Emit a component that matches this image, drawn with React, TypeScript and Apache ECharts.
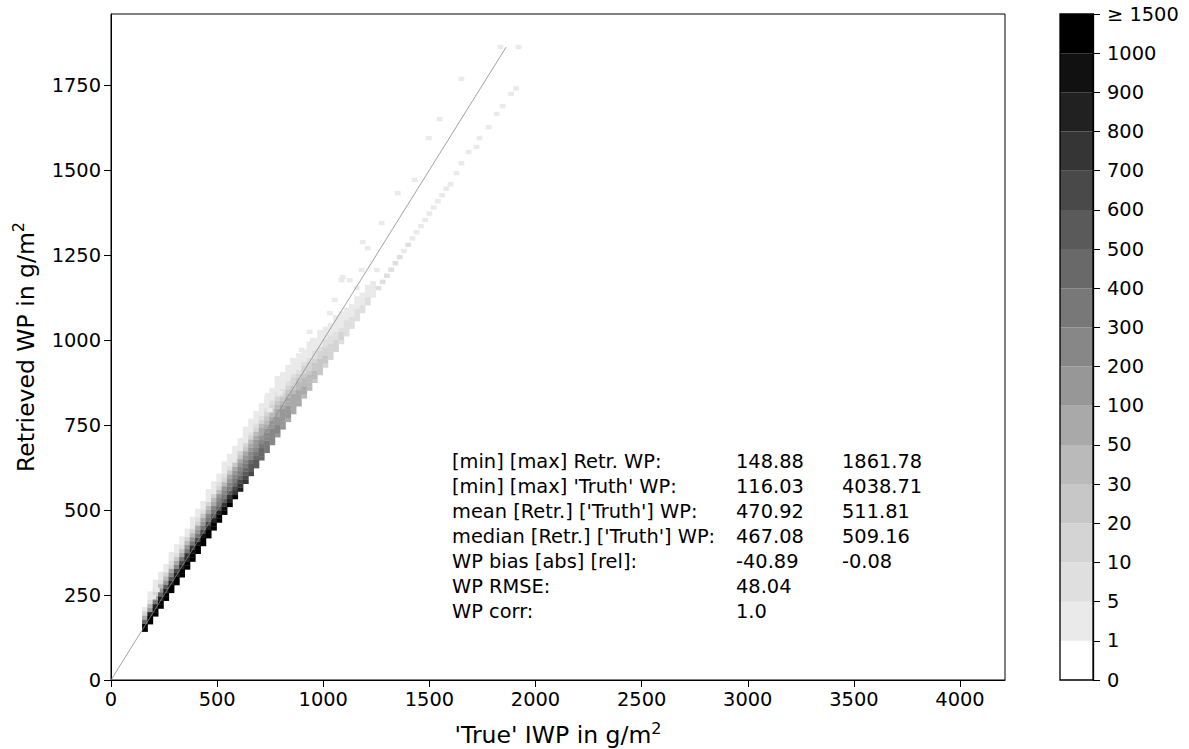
import React, { useEffect, useRef } from "react";
import * as echarts from "echarts";

// ---------- data ----------
const bandX = [160, 185, 210, 235, 260, 285, 310, 335, 360, 385, 410, 435, 460, 485, 510, 535, 560, 585, 610, 635, 660, 685, 710, 735, 760, 785, 810, 835, 860, 885, 910, 935, 960, 985, 1010, 1035, 1060, 1085, 1110, 1135, 1160, 1185, 1210, 1235];
const bandY0 = [148, 170, 193, 216, 239, 262, 285, 308, 331, 354, 377, 400, 423, 446, 469, 492, 515, 538, 560, 583, 606, 629, 652, 674, 697, 720, 743, 765, 788, 811, 834, 857, 880, 903, 925, 948, 971, 994, 1017, 1039, 1062, 1085, 1108, 1131];
const bandCounts: number[][] = [
  [1500, 1000, 400, 60, 10, 3],
  [1500, 1000, 800, 150, 30, 8, 3, 1],
  [1500, 1000, 800, 300, 60, 15, 5, 2, 1],
  [1500, 1000, 800, 400, 100, 30, 8, 3, 1],
  [1500, 1000, 800, 500, 150, 40, 10, 4, 1],
  [1500, 1000, 800, 500, 200, 50, 15, 5, 2, 1],
  [1500, 1000, 800, 600, 200, 60, 20, 6, 2, 1],
  [1500, 1000, 800, 600, 300, 80, 25, 8, 3, 1],
  [1500, 1000, 800, 700, 300, 100, 30, 10, 3, 1],
  [1500, 1000, 900, 700, 300, 100, 40, 12, 4, 1, 1],
  [1500, 1000, 900, 600, 300, 150, 50, 15, 5, 2, 1],
  [1500, 1000, 900, 600, 300, 150, 50, 20, 6, 2, 1],
  [1500, 1000, 800, 600, 300, 200, 80, 30, 10, 3, 1, 1],
  [1500, 1000, 800, 500, 300, 200, 80, 30, 10, 4, 2, 1],
  [1500, 1000, 800, 500, 300, 200, 100, 40, 15, 5, 2, 1],
  [1100, 900, 700, 500, 300, 200, 100, 40, 15, 6, 2, 1, 1],
  [1000, 800, 700, 500, 300, 200, 100, 50, 20, 8, 3, 1, 1],
  [1000, 700, 600, 400, 300, 200, 100, 50, 20, 8, 3, 1, 1],
  [800, 700, 600, 400, 300, 200, 100, 50, 25, 10, 4, 2, 1],
  [700, 600, 500, 400, 300, 200, 100, 50, 25, 10, 4, 2, 1, 1],
  [600, 500, 500, 400, 250, 200, 100, 50, 30, 12, 5, 2, 1, 1],
  [500, 500, 400, 300, 250, 150, 100, 50, 30, 12, 5, 2, 1, 1],
  [400, 400, 400, 300, 200, 150, 80, 50, 30, 15, 6, 3, 1, 1],
  [300, 300, 300, 250, 200, 120, 80, 40, 25, 12, 6, 3, 1, 1],
  [200, 250, 250, 200, 150, 100, 60, 40, 20, 10, 5, 2, 1, 1],
  [150, 200, 200, 150, 120, 80, 50, 30, 20, 10, 5, 2, 1, 1, 1],
  [100, 150, 150, 120, 100, 60, 40, 25, 15, 8, 4, 2, 1, 1],
  [80, 100, 100, 100, 80, 50, 30, 20, 12, 6, 3, 2, 1, 1],
  [60, 80, 80, 70, 60, 40, 25, 15, 10, 5, 3, 1, 1],
  [50, 60, 60, 50, 40, 30, 20, 12, 8, 4, 2, 1, 1],
  [40, 50, 50, 40, 30, 20, 15, 10, 5, 3, 2, 1],
  [30, 40, 40, 30, 25, 15, 10, 6, 4, 2, 1, 1],
  [25, 30, 30, 25, 20, 12, 8, 5, 3, 2, 1],
  [20, 25, 25, 20, 15, 10, 6, 4, 2, 1, 1],
  [15, 20, 20, 15, 10, 8, 5, 3, 2, 1],
  [12, 15, 15, 12, 8, 5, 3, 2, 1],
  [10, 12, 12, 8, 6, 4, 2, 1, 1],
  [8, 10, 10, 6, 4, 3, 2, 1],
  [8, 8, 8, 5, 3, 2, 1],
  [6, 6, 6, 4, 2, 1],
  [6, 5, 5, 3, 2, 1],
  [5, 5, 4, 2, 1],
  [5, 5, 4, 2, 1],
  [4, 4, 3, 1],
];
const trailCells: number[][] = [
  [1260, 1153, 6], [1280, 1171, 5], [1300, 1189, 6], [1320, 1207, 5], [1340, 1226, 5],
  [1360, 1244, 5], [1380, 1262, 4], [1400, 1280, 5], [1420, 1299, 4], [1440, 1317, 4],
  [1460, 1335, 3], [1480, 1353, 3], [1500, 1372, 3], [1520, 1390, 2], [1540, 1408, 3],
  [1560, 1426, 2], [1580, 1445, 2], [1600, 1458, 1], [1628, 1491, 1], [1651, 1520, 1],
  [1685, 1553, 1], [1722, 1568, 1], [1736, 1594, 1], [1779, 1626, 1], [1817, 1665, 1],
  [1845, 1688, 1], [1885, 1724, 1], [1909, 1740, 1], [1920, 1862, 1], [1835, 1862, 1],
];
const sparseCells: number[][] = [
  [198, 244, 1], [216, 265, 1], [574, 653, 1], [574, 647, 1], [607, 685, 1], [621, 706, 1],
  [654, 735, 1], [739, 838, 1], [748, 794, 1], [795, 844, 1], [810, 882, 1], [842, 912, 1],
  [857, 941, 1], [898, 971, 1], [936, 1024, 1], [951, 1000, 1], [1031, 1079, 1], [1054, 1118, 1],
  [1086, 1176, 1], [1092, 1185, 1], [1125, 1176, 1], [1158, 1153, 1], [1181, 1206, 1],
  [1186, 1288, 1], [1209, 1270, 1], [1252, 1206, 1], [1275, 1344, 1], [1351, 1432, 1],
  [1431, 1471, 1], [1497, 1594, 1], [1548, 1650, 1], [1651, 1768, 1],
];
const identityLine = [[0, 0], [1861.78, 1861.78]];

const levelBounds = [0, 1, 5, 10, 20, 30, 50, 100, 200, 300, 400, 500, 600, 700, 800, 900, 1000, 1500];
const levelLabels = ["0", "1", "5", "10", "20", "30", "50", "100", "200", "300", "400", "500", "600", "700", "800", "900", "1000", "\u2265 1500"];
const levelColors = ["#ffffff", "#eaeaea", "#dfdfdf", "#d4d4d4", "#c7c7c7", "#bababa", "#a9a9a9", "#979797", "#878787", "#787878", "#696969", "#5a5a5a", "#494949", "#353535", "#212121", "#111111", "#000000"];

const xTicks = [0, 500, 1000, 1500, 2000, 2500, 3000, 3500, 4000];
const yTicks = [0, 250, 500, 750, 1000, 1250, 1500, 1750];

const statLabels = ["[min] [max] Retr. WP:", "[min] [max] 'Truth' WP:", "mean [Retr.] ['Truth'] WP:", "median [Retr.] ['Truth'] WP:", "WP bias [abs] [rel]:", "WP RMSE:", "WP corr:"];
const statCol1 = ["148.88", "116.03", "470.92", "467.08", "-40.89", "48.04", "1.0"];
const statCol2 = ["1861.78", "4038.71", "511.81", "509.16", "-0.08", "", ""];

// ---------- helpers ----------
const FONT = "DejaVu Sans";
const CELL_DY = 12;

function binColor(c: number): string {
  let idx = 0;
  for (let i = 0; i < levelBounds.length; i++) if (c >= levelBounds[i]) idx = i;
  return levelColors[Math.min(idx, levelColors.length - 1)];
}

function buildCells() {
  const out: any[] = [];
  const push = (x: number, y: number, c: number) =>
    out.push({ value: [x, y, c], itemStyle: { color: binColor(c) } });
  bandX.forEach((x, i) => {
    bandCounts[i].forEach((c, k) => push(x, bandY0[i] + k * CELL_DY, c));
  });
  trailCells.forEach((p) => push(p[0], p[1], p[2]));
  sparseCells.forEach((p) => push(p[0], p[1], p[2]));
  return out;
}

export default function App() {
  const ref = useRef<HTMLDivElement>(null);
  useEffect(() => {
    if (!ref.current) return;
    const chart = echarts.init(ref.current, undefined, { renderer: "svg" });
    const tickFont = { fontFamily: FONT, fontSize: 19.4, color: "#000" };
    const graphics: any[] = [];
    statLabels.forEach((t, i) => {
      const y = 463 + i * 25;
      graphics.push({ type: "text", left: 452, top: y - 11, style: { text: t, font: `19.4px '${FONT}'`, fill: "#000" } });
      graphics.push({ type: "text", left: 736, top: y - 11, style: { text: statCol1[i], font: `19.4px '${FONT}'`, fill: "#000" } });
      if (statCol2[i]) graphics.push({ type: "text", left: 842, top: y - 11, style: { text: statCol2[i], font: `19.4px '${FONT}'`, fill: "#000" } });
    });
    const nameStyle = {
      fontFamily: FONT, fontSize: 23.5, color: "#000", lineHeight: 30,
      rich: { sup: { fontFamily: FONT, fontSize: 16, verticalAlign: "top", lineHeight: 18, color: "#000" } },
    };
    chart.setOption({
      animation: false,
      backgroundColor: "#fff",
      textStyle: { fontFamily: FONT },
      grid: [
        { left: 111, right: 184, top: 14, bottom: 69, show: true, borderColor: "#000", borderWidth: 1, backgroundColor: "transparent", outerBoundsMode: "none", containLabel: false },
        { left: 1060, width: 33, top: 14, bottom: 69, show: true, borderColor: "#000", borderWidth: 1.3, backgroundColor: "transparent", z: 5, outerBoundsMode: "none", containLabel: false },
      ],
      xAxis: [
        {
          gridIndex: 0, type: "value", min: 0, max: 4212,
          name: "'True' IWP in g/m{sup|2}", nameLocation: "middle", nameGap: 40,
          nameTextStyle: nameStyle,
          axisLine: { show: true, onZero: false, lineStyle: { color: "#000", width: 1 } },
          axisTick: { show: true, length: 7, lineStyle: { color: "#000", width: 1 }, customValues: xTicks },
          axisLabel: { ...tickFont, margin: 10, customValues: xTicks, formatter: (v: number) => String(v) },
          splitLine: { show: false },
        },
        { gridIndex: 1, type: "value", min: 0, max: 1, show: false },
      ],
      yAxis: [
        {
          gridIndex: 0, type: "value", min: 0, max: 1959,
          name: "Retrieved WP in g/m{sup|2}", nameLocation: "middle", nameGap: 62, nameRotate: 90,
          nameTextStyle: nameStyle,
          axisLine: { show: true, onZero: false, lineStyle: { color: "#000", width: 1 } },
          axisTick: { show: true, length: 7, lineStyle: { color: "#000", width: 1 }, customValues: yTicks },
          axisLabel: { ...tickFont, margin: 10, customValues: yTicks, formatter: (v: number) => String(v) },
          splitLine: { show: false },
        },
        { gridIndex: 1, type: "category", data: levelColors.map((_, i) => String(i)), show: false },
        {
          gridIndex: 1, type: "value", min: 0, max: levelLabels.length - 1, interval: 1, position: "right",
          axisLine: { show: true, lineStyle: { color: "#000", width: 1.3 } },
          axisTick: { show: true, length: 7, lineStyle: { color: "#000", width: 1 } },
          axisLabel: { ...tickFont, margin: 14, formatter: (v: number) => levelLabels[Math.round(v)] ?? "" },
          splitLine: { show: false },
        },
      ],
      series: [
        {
          type: "scatter", xAxisIndex: 0, yAxisIndex: 0, symbol: "rect", symbolSize: [5.8, 4.4],
          data: buildCells(), itemStyle: { opacity: 1 }, z: 2,
        },
        {
          type: "line", xAxisIndex: 0, yAxisIndex: 0, data: identityLine, symbol: "none",
          lineStyle: { color: "#8a8a8a", width: 0.8 }, z: 3,
        },
        {
          type: "bar", xAxisIndex: 1, yAxisIndex: 1, barWidth: "100%", barCategoryGap: "0%",
          data: levelColors.map((c) => ({ value: 1, itemStyle: { color: c } })),
        },
      ],
      graphic: graphics,
    });
    return () => chart.dispose();
  }, []);
  return <div ref={ref} style={{ width: 1189, height: 749, position: "absolute", left: 0, top: 0 }} />;
}
